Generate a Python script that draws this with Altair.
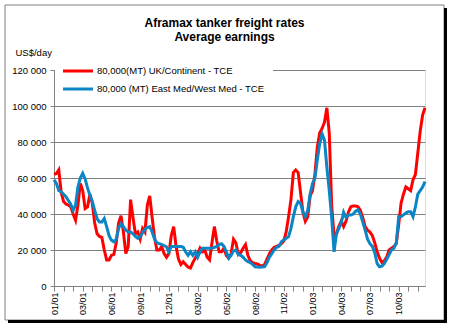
import altair as alt
import pandas as pd

# Weekly observations, Jan 2001 .. Dec 2003 (values in US$ thousand / day)
weeks = list(range(156))
uk_continent = [
    62, 62.5, 64.5, 52, 47, 45.5, 45, 44, 40, 36.5,
    45, 57, 53, 43, 44, 51, 46, 35, 29, 27.5,
    27, 20, 14.5, 14.5, 17, 17.5, 24, 35, 39, 30,
    18, 22, 48, 38, 29, 30, 26, 32, 30, 45,
    50, 38, 27, 20, 20, 22, 18, 16, 18, 28,
    33, 22, 15, 12, 13.5, 12, 10.5, 10, 13, 15.5,
    18, 21, 19, 20, 16, 14.5, 24, 33, 25, 19,
    19, 21, 17, 15.5, 18, 26, 24, 17.5, 18.5, 21,
    23, 17, 14, 13, 12.5, 12.2, 11.5, 11, 12, 15,
    18, 20, 21.5, 22, 22.5, 23.5, 25, 30, 38.5, 48,
    63, 64.5, 63, 52, 41, 36, 38.5, 50, 53, 62,
    77, 85, 87.5, 91, 99, 85, 45, 28, 29, 33,
    36, 33, 36, 41, 44, 44.5, 44.5, 44, 42, 38,
    33, 31, 30, 28, 24, 19, 15.5, 13, 14, 16,
    20, 21, 22, 23.5, 34, 46, 51, 55, 54, 53,
    59, 62, 74, 86, 95, 99,
]
east_west_med = [
    59, 57, 53, 52.4, 51, 49.6, 47.5, 45.5, 42, 45,
    55, 60, 62.6, 59.5, 54.5, 50.5, 47, 42, 37.5, 35.5,
    35.5, 37.5, 33, 28, 25.5, 24.6, 26, 32, 34.8, 33,
    31, 30, 30, 29, 27.5, 26.5, 27.5, 29.5, 31.5, 32.5,
    33, 30, 26, 24, 23.5, 23, 22.5, 21.8, 19, 21.9,
    22, 22, 22, 22, 21.5, 19, 17, 19, 17, 19,
    16, 19, 21, 21, 21, 21, 21, 21.5, 22, 23,
    23.5, 22, 19, 15.5, 17, 19.5, 20, 17.5, 17, 16,
    14.5, 13.5, 13, 12, 10.7, 10.5, 10.4, 10.5, 10.7, 13,
    16, 18, 20, 21.5, 22, 24.6, 25.5, 26.5, 27.4, 32,
    38.5, 44, 46.9, 46, 41, 38.5, 42, 51, 57, 59.8,
    70, 79, 84.5, 81, 66, 53, 38, 19, 29, 32,
    35, 41, 38, 39.4, 39.4, 40, 41.5, 42.2, 40, 35.5,
    31, 26, 23.5, 22, 18.5, 12.5, 10.7, 11, 12.5, 14.8,
    17.5, 20, 21, 24, 38.5, 38.5, 39.5, 40.5, 41.3, 41.3,
    38.5, 44, 51, 53, 55, 58,
]
tick_labels = ["01/01", "03/01", "06/01", "09/01", "12/01", "03/02", "05/02",
               "08/02", "11/02", "01/03", "04/03", "07/03", "10/03"]
series_names = ["80,000(MT) UK/Continent - TCE",
                "80,000 (MT) East Med/West Med - TCE"]
series_colors = ["#ff0000", "#0a85c6"]
y_ticks = [0, 20000, 40000, 60000, 80000, 100000, 120000]

rows = []
for name, vals in zip(series_names, [uk_continent, east_west_med]):
    for w, v in zip(weeks, vals):
        rows.append({"week": w, "series": name, "value": v * 1000})
df = pd.DataFrame(rows)

FONT = "Liberation Sans"
label_js = "[" + ",".join("'%s'" % t for t in tick_labels) + "]"

lines = alt.Chart(df).mark_line(strokeWidth=3, interpolate="linear").encode(
    x=alt.X("week:Q",
            scale=alt.Scale(domain=[0, 155], nice=False, zero=False),
            axis=alt.Axis(values=list(range(0, 156, 4)),
                          labelExpr="datum.value % 12 == 0 ? " + label_js + "[datum.value / 12] : ''",
                          labelAngle=270, title=None, grid=False, tickSize=5,
                          labelPadding=1, labelFontSize=9, labelFont=FONT,
                          labelColor="black", labelOverlap=False, labelBound=False,
                          domainColor="#808080", tickColor="#808080")),
    y=alt.Y("value:Q",
            scale=alt.Scale(domain=[0, 120000], nice=False),
            axis=alt.Axis(values=y_ticks,
                          labelExpr="replace(format(datum.value, ','), ',', ' ')",
                          title="US$/day", titleAngle=0, titleAlign="left",
                          titleBaseline="bottom", titleX=-39, titleY=-13,
                          titleFontWeight="normal", titleFontSize=9.5, titleFont=FONT,
                          titleColor="black",
                          grid=True, gridColor="#808080", tickSize=4, labelPadding=4,
                          labelFontSize=9.5, labelFont=FONT, labelColor="black",
                          domainColor="#808080", tickColor="#808080")),
    color=alt.Color("series:N",
                    scale=alt.Scale(domain=series_names, range=series_colors),
                    sort=series_names,
                    legend=alt.Legend(orient="none", legendX=1, legendY=-16, title=None,
                                      fillColor="white", padding=8,
                                      symbolType="M-2,0L2,0", symbolSize=225,
                                      symbolStrokeWidth=3, symbolOffset=6,
                                      labelFontSize=9.5, labelLimit=0,
                                      labelFont=FONT, labelColor="black",
                                      labelOffset=10, rowPadding=3)),
)

frame_data = alt.Data(values=[{"k": 1}])
frame = alt.Chart(frame_data).mark_rect(fill=None, stroke="#808080", strokeWidth=1).encode(
    x=alt.value(-49), x2=alt.value(390), y=alt.value(-65), y2=alt.value(250))
shadow_r = alt.Chart(frame_data).mark_rect(fill="black").encode(
    x=alt.value(390), x2=alt.value(393), y=alt.value(-62), y2=alt.value(253))
shadow_b = alt.Chart(frame_data).mark_rect(fill="black").encode(
    x=alt.value(-46), x2=alt.value(393), y=alt.value(250), y2=alt.value(253))

chart = alt.layer(frame, shadow_r, shadow_b, lines).properties(
    width=371, height=216,
    autosize=alt.AutoSizeParams(type="none"),
    padding={"left": 54, "top": 70, "right": 27, "bottom": 42},
    title=alt.TitleParams(text=["Aframax tanker freight rates", "Average earnings"],
                          fontSize=12, fontWeight="bold", font=FONT, color="black",
                          anchor="middle", frame="group", dx=-15, lineHeight=14,
                          offset=-39),
).configure_view(strokeWidth=0).configure(background="white")

chart.save("out.html", embed_options={"renderer": "svg", "actions": False})
